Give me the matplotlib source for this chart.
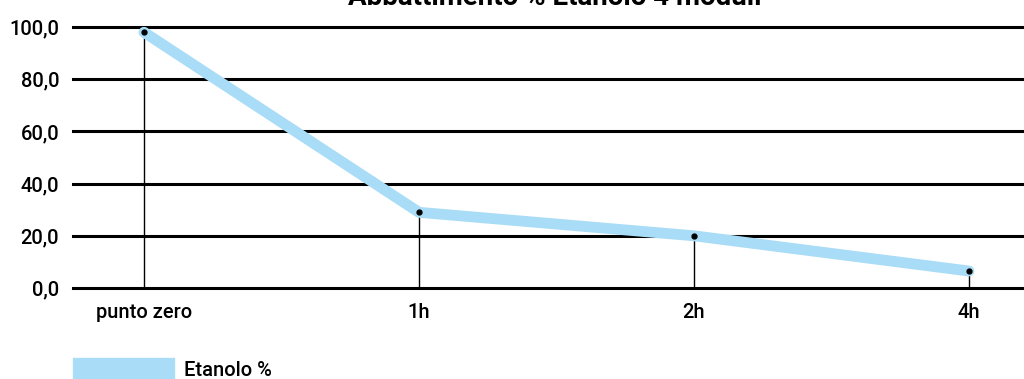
import matplotlib.pyplot as plt
from matplotlib.patches import Patch

# data
categories = ['punto zero', '1h', '2h', '4h']
etanolo = [98.0, 29.0, 20.0, 6.5]
yticks = [0, 20, 40, 60, 80, 100]
title = 'Abbattimento % Etanolo 4 moduli'

blue = '#a9dcf6'
plt.rcParams['font.family'] = ['Roboto', 'DejaVu Sans']
plt.rcParams['font.weight'] = 'medium'

fig = plt.figure(figsize=(10.24, 3.79), dpi=100)
ax = fig.add_axes([73/1024, 1-288/379, 951/1024, 261/379])

xs = list(range(len(categories)))
ax.set_xlim(-0.258, 3.2)
ax.set_ylim(0, 100)

# gridlines
for v in yticks:
    ax.axhline(v, color='k', lw=2.2, clip_on=False, zorder=1)

# drop lines
ax.vlines(xs, 0, etanolo, color='k', lw=1, zorder=2)

ax.plot(xs, etanolo, color=blue, lw=7.8, solid_capstyle='round',
        solid_joinstyle='round', zorder=3, label='Etanolo %')
ax.plot(xs, etanolo, 'o', color='k', ms=3.5, zorder=4)

ax.set_yticks(yticks)
ax.set_yticklabels([f'{v:.1f}'.replace('.', ',') for v in yticks], fontsize=14.5)
ax.set_xticks(xs)
ax.set_xticklabels(categories, fontsize=14.5)
ax.tick_params(length=0, pad=10)
ax.tick_params(axis='x', pad=11)
for s in ax.spines.values():
    s.set_visible(False)

fig.text(555/1024, 1-5/379, title, ha='center', va='baseline',
         fontsize=20, fontweight='bold')

fig.legend(handles=[Patch(color=blue, label='Etanolo %')], loc='upper left',
           bbox_to_anchor=(55/1024, 1-340/379), frameon=False, fontsize=14.5,
           handlelength=5.0, handleheight=1.4, handletextpad=0.5)

fig.savefig('out.png', dpi=100)
